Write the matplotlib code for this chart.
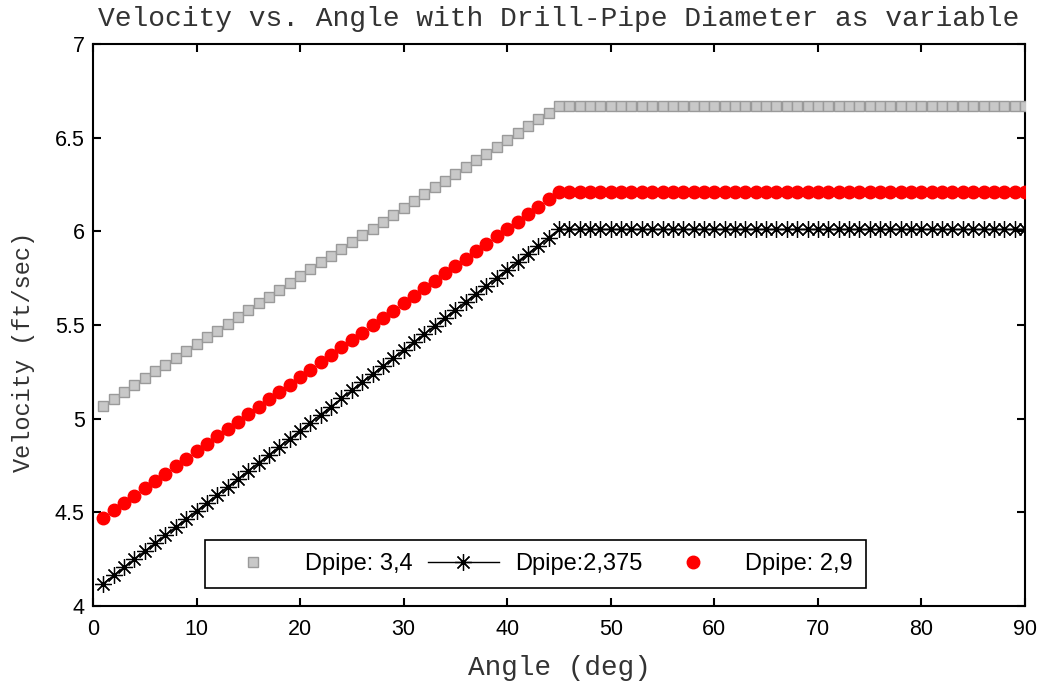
import matplotlib
matplotlib.use("Agg")
import matplotlib.pyplot as plt

angles = list(range(1, 91))

v_34 = [5.070, 5.106, 5.143, 5.179, 5.215, 5.252, 5.288, 5.325, 5.361, 5.397,
        5.434, 5.470, 5.506, 5.543, 5.579, 5.615, 5.652, 5.688, 5.725, 5.761,
        5.797, 5.834, 5.870, 5.906, 5.943, 5.979, 6.015, 6.052, 6.088, 6.125,
        6.161, 6.197, 6.234, 6.270, 6.306, 6.343, 6.379, 6.415, 6.452, 6.488,
        6.525, 6.561, 6.597, 6.634, 6.670,
        6.67, 6.67, 6.67, 6.67, 6.67, 6.67, 6.67, 6.67, 6.67, 6.67,
        6.67, 6.67, 6.67, 6.67, 6.67, 6.67, 6.67, 6.67, 6.67, 6.67,
        6.67, 6.67, 6.67, 6.67, 6.67, 6.67, 6.67, 6.67, 6.67, 6.67,
        6.67, 6.67, 6.67, 6.67, 6.67, 6.67, 6.67, 6.67, 6.67, 6.67,
        6.67, 6.67, 6.67, 6.67, 6.67]

v_2375 = [4.120, 4.163, 4.206, 4.249, 4.292, 4.335, 4.378, 4.421, 4.464, 4.507,
          4.550, 4.592, 4.635, 4.678, 4.721, 4.764, 4.807, 4.850, 4.893, 4.936,
          4.979, 5.022, 5.065, 5.108, 5.151, 5.194, 5.237, 5.280, 5.323, 5.366,
          5.409, 5.452, 5.495, 5.538, 5.581, 5.624, 5.667, 5.710, 5.752, 5.795,
          5.838, 5.881, 5.924, 5.967, 6.010,
          6.01, 6.01, 6.01, 6.01, 6.01, 6.01, 6.01, 6.01, 6.01, 6.01,
          6.01, 6.01, 6.01, 6.01, 6.01, 6.01, 6.01, 6.01, 6.01, 6.01,
          6.01, 6.01, 6.01, 6.01, 6.01, 6.01, 6.01, 6.01, 6.01, 6.01,
          6.01, 6.01, 6.01, 6.01, 6.01, 6.01, 6.01, 6.01, 6.01, 6.01,
          6.01, 6.01, 6.01, 6.01, 6.01]

v_29 = [4.470, 4.510, 4.549, 4.589, 4.628, 4.668, 4.707, 4.747, 4.786, 4.826,
        4.865, 4.905, 4.945, 4.984, 5.024, 5.063, 5.103, 5.142, 5.182, 5.221,
        5.261, 5.300, 5.340, 5.380, 5.419, 5.459, 5.498, 5.538, 5.577, 5.617,
        5.656, 5.696, 5.735, 5.775, 5.815, 5.854, 5.894, 5.933, 5.973, 6.012,
        6.052, 6.091, 6.131, 6.170, 6.210,
        6.21, 6.21, 6.21, 6.21, 6.21, 6.21, 6.21, 6.21, 6.21, 6.21,
        6.21, 6.21, 6.21, 6.21, 6.21, 6.21, 6.21, 6.21, 6.21, 6.21,
        6.21, 6.21, 6.21, 6.21, 6.21, 6.21, 6.21, 6.21, 6.21, 6.21,
        6.21, 6.21, 6.21, 6.21, 6.21, 6.21, 6.21, 6.21, 6.21, 6.21,
        6.21, 6.21, 6.21, 6.21, 6.21]

labels = ["Dpipe: 3,4", "Dpipe:2,375", "Dpipe: 2,9"]
title = "Velocity vs. Angle with Drill-Pipe Diameter as variable"
xlabel = "Angle (deg)"
ylabel = "Velocity (ft/sec)"
xticks = [0, 10, 20, 30, 40, 50, 60, 70, 80, 90]
yticks = [4, 4.5, 5, 5.5, 6, 6.5, 7]
ytick_labels = ["4", "4.5", "5", "5.5", "6", "6.5", "7"]

plt.rcParams["font.family"] = ["Liberation Sans", "DejaVu Sans"]

fig = plt.figure(figsize=(10.41, 6.82), dpi=100)
ax = fig.add_axes([0.0893, 0.1114, 0.8953, 0.8241])

ax.plot(angles, v_34, linestyle="none", marker="s", markersize=7,
        markerfacecolor="#c8c8c8", markeredgecolor="#9a9a9a", markeredgewidth=1.0,
        label=labels[0], zorder=3)
ax.plot(angles, v_2375, linestyle="-", color="black", linewidth=1.0,
        marker=(8, 2, 0), markersize=12, markeredgewidth=0.9,
        markeredgecolor="black", label=labels[1], zorder=3)
ax.plot(angles, v_29, linestyle="none", marker="o", markersize=9,
        markerfacecolor="#ff0000", markeredgecolor="#ff0000",
        label=labels[2], zorder=3)

ax.set_xlim(0, 90)
ax.set_ylim(4, 7)
ax.set_xticks(xticks)
ax.set_yticks(yticks)
ax.set_yticklabels(ytick_labels)
ax.tick_params(direction="in", length=6, width=1.5, labelsize=15.5,
               top=True, right=True, colors="black")
ax.tick_params(axis="x", pad=9)
ax.tick_params(axis="y", pad=6)
for s in ax.spines.values():
    s.set_linewidth(1.5)

mono = ["Liberation Mono", "DejaVu Sans Mono"]
ax.set_title(title, family=mono, fontsize=20.2, color="#333333", pad=13)
ax.set_xlabel(xlabel, family=mono, fontsize=20, color="#333333", labelpad=11)
ax.set_ylabel(ylabel, family=mono, fontsize=17, color="#333333")
ax.yaxis.set_label_coords(-0.062, 0.452)

leg = ax.legend(loc="lower left", bbox_to_anchor=(0.12, 0.032, 0.709, 0.08),
                mode="expand", ncol=3, fontsize=17, frameon=True,
                fancybox=False, edgecolor="black", framealpha=1,
                handlelength=3.0, borderpad=0.55, columnspacing=0.8,
                handletextpad=0.7, borderaxespad=0)
leg.get_frame().set_linewidth(1.2)

fig.savefig("out.png", dpi=100)
